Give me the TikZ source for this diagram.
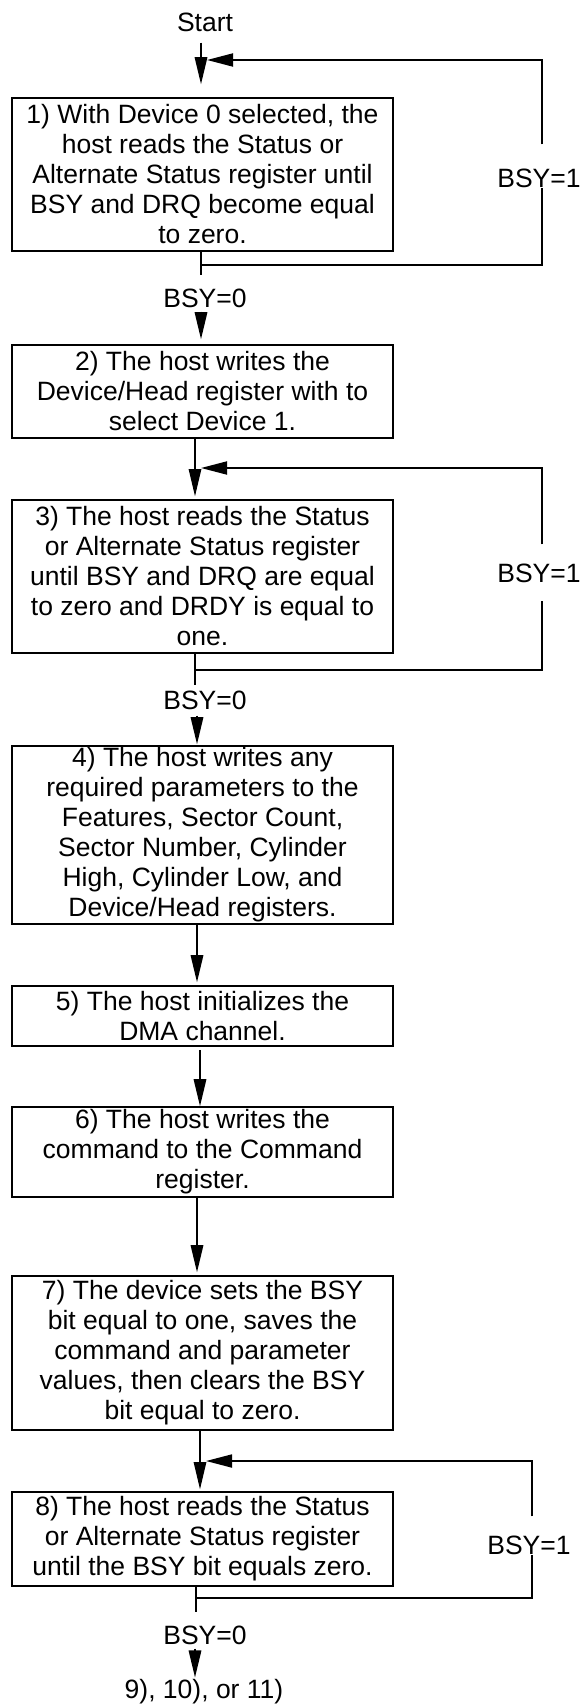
\documentclass[tikz,border=0pt]{standalone}
\usepackage{fontspec}
\setmainfont{Liberation Sans}
\usetikzlibrary{arrows.meta}
\begin{document}
\begin{tikzpicture}[x=1pt,y=-1pt,
  every node/.style={font=\fontsize{26.5}{30}\selectfont, inner sep=0pt},
  stepbox/.style={draw, line width=1.6pt, minimum width=381pt, align=center},
  flow/.style={line width=1.6pt},
  thinflow/.style={line width=1.1pt},
  arr/.style={flow, -{Triangle[length=27pt,width=12.5pt]}},
  thinarr/.style={thinflow, -{Triangle[length=27pt,width=12.5pt]}},
  back/.style={line width=1.8pt},
  backarr/.style={back, -{Triangle[length=26pt,width=13pt]}}]
\useasboundingbox (0,0) rectangle (580,1707);

% columns of the main flow line
\coordinate (colA) at (201,0);
\coordinate (colB) at (195,0);
\coordinate (colC) at (197,0);
\coordinate (colD) at (200,0);
% right-hand return lines
\coordinate (rxA) at (542,0);
\coordinate (rxB) at (532,0);

% steps
\node (start) at (205,22) {Start};
\node[stepbox, minimum height=153pt] (s1) at (202.5,174.5)
  {1) With Device 0 selected, the\\host reads the Status or\\Alternate Status register until\\BSY and DRQ become equal\\to zero.};
\node[stepbox, minimum height=93pt] (s2) at (202.5,391.5)
  {2) The host writes the\\Device/Head register with to\\select Device 1.};
\node[stepbox, minimum height=153pt] (s3) at (202.5,576.5)
  {3) The host reads the Status\\or Alternate Status register\\until BSY and DRQ are equal\\to zero and DRDY is equal to\\one.};
\node[stepbox, minimum height=178pt] (s4) at (202.5,835)
  {4) The host writes any\\required parameters to the\\Features, Sector Count,\\Sector Number, Cylinder\\High, Cylinder Low, and\\Device/Head registers.};
\node[stepbox, minimum height=60pt] (s5) at (202.5,1016)
  {5) The host initializes the\\DMA channel.};
\node[stepbox, minimum height=90pt] (s6) at (202.5,1152)
  {6) The host writes the\\command to the Command\\register.};
\node[stepbox, minimum height=154pt] (s7) at (202.5,1353)
  {7) The device sets the BSY\\bit equal to one, saves the\\command and parameter\\values, then clears the BSY\\bit equal to zero.};
\node[stepbox, minimum height=94pt] (s8) at (202.5,1539)
  {8) The host reads the Status\\or Alternate Status register\\until the BSY bit equals zero.};
\node (next) at (204,1692) {9), 10), or 11)};

% condition labels
\node (z1) at (205,298) {BSY=0};
\node (z3) at (205,700) {BSY=0};
\node (z8) at (205,1635) {BSY=0};
\node (o1) at (539,178) {BSY=1};
\node (o3) at (539,573) {BSY=1};
\node (o8) at (529,1545) {BSY=1};

% junctions and ends of the polling loops
\coordinate (j1) at (201,265);
\coordinate (e1) at (201,275);
\coordinate (t1) at (207,60);
\coordinate (j3) at (195,670);
\coordinate (e3) at (195,685);
\coordinate (t3) at (201,468);
\coordinate (j8) at (196,1598);
\coordinate (e8) at (196,1612);
\coordinate (t8) at (206,1461);
\path (o1.north -| rxA) ++(0,-24) coordinate (u1);
\path (o3.north -| rxA) ++(0,-19) coordinate (u3);
\path (o3.south -| rxA) ++(0,18) coordinate (d3);
\path (o8.north -| rxB) ++(0,-19) coordinate (u8);

% main flow
\draw[arr, shorten <=11pt, shorten >=13pt] (start.south -| colA) -- (s1.north -| colA);
\draw[flow] (s1.south -| colA) -- (e1);
\draw[arr, shorten <=4pt, shorten >=5pt] (z1.south -| colA) -- (s2.north -| colA);
\draw[thinarr, shorten >=3pt] (s2.south -| colB) -- (s3.north -| colB);
\draw[flow] (s3.south -| colB) -- (e3);
\draw[arr, shorten <=6pt, shorten >=1pt] (z3.south -| colC) -- (s4.north -| colC);
\draw[arr, shorten >=3pt] (s4.south -| colC) -- (s5.north -| colC);
\draw[arr, shorten <=3pt] (s5.south -| colD) -- (s6.north -| colD);
\draw[arr, shorten >=3pt] (s6.south -| colC) -- (s7.north -| colC);
\draw[thinarr, shorten >=2pt] (s7.south -| colD) -- (s8.north -| colD);
\draw[flow] (s8.south -| e8) -- (e8);
\draw[arr, shorten <=4pt, shorten >=2pt] (z8.south -| colB) -- (next.north -| colB);

% polling loops
\draw[back] (j1) -| (o1.south -| rxA);
\draw[backarr] (u1) |- (t1);
\draw[back] (j3) -| (d3);
\draw[backarr] (u3) |- (t3);
\draw[back] (j8) -| (o8.south -| rxB);
\draw[backarr] (u8) |- (t8);
\end{tikzpicture}
\end{document}
